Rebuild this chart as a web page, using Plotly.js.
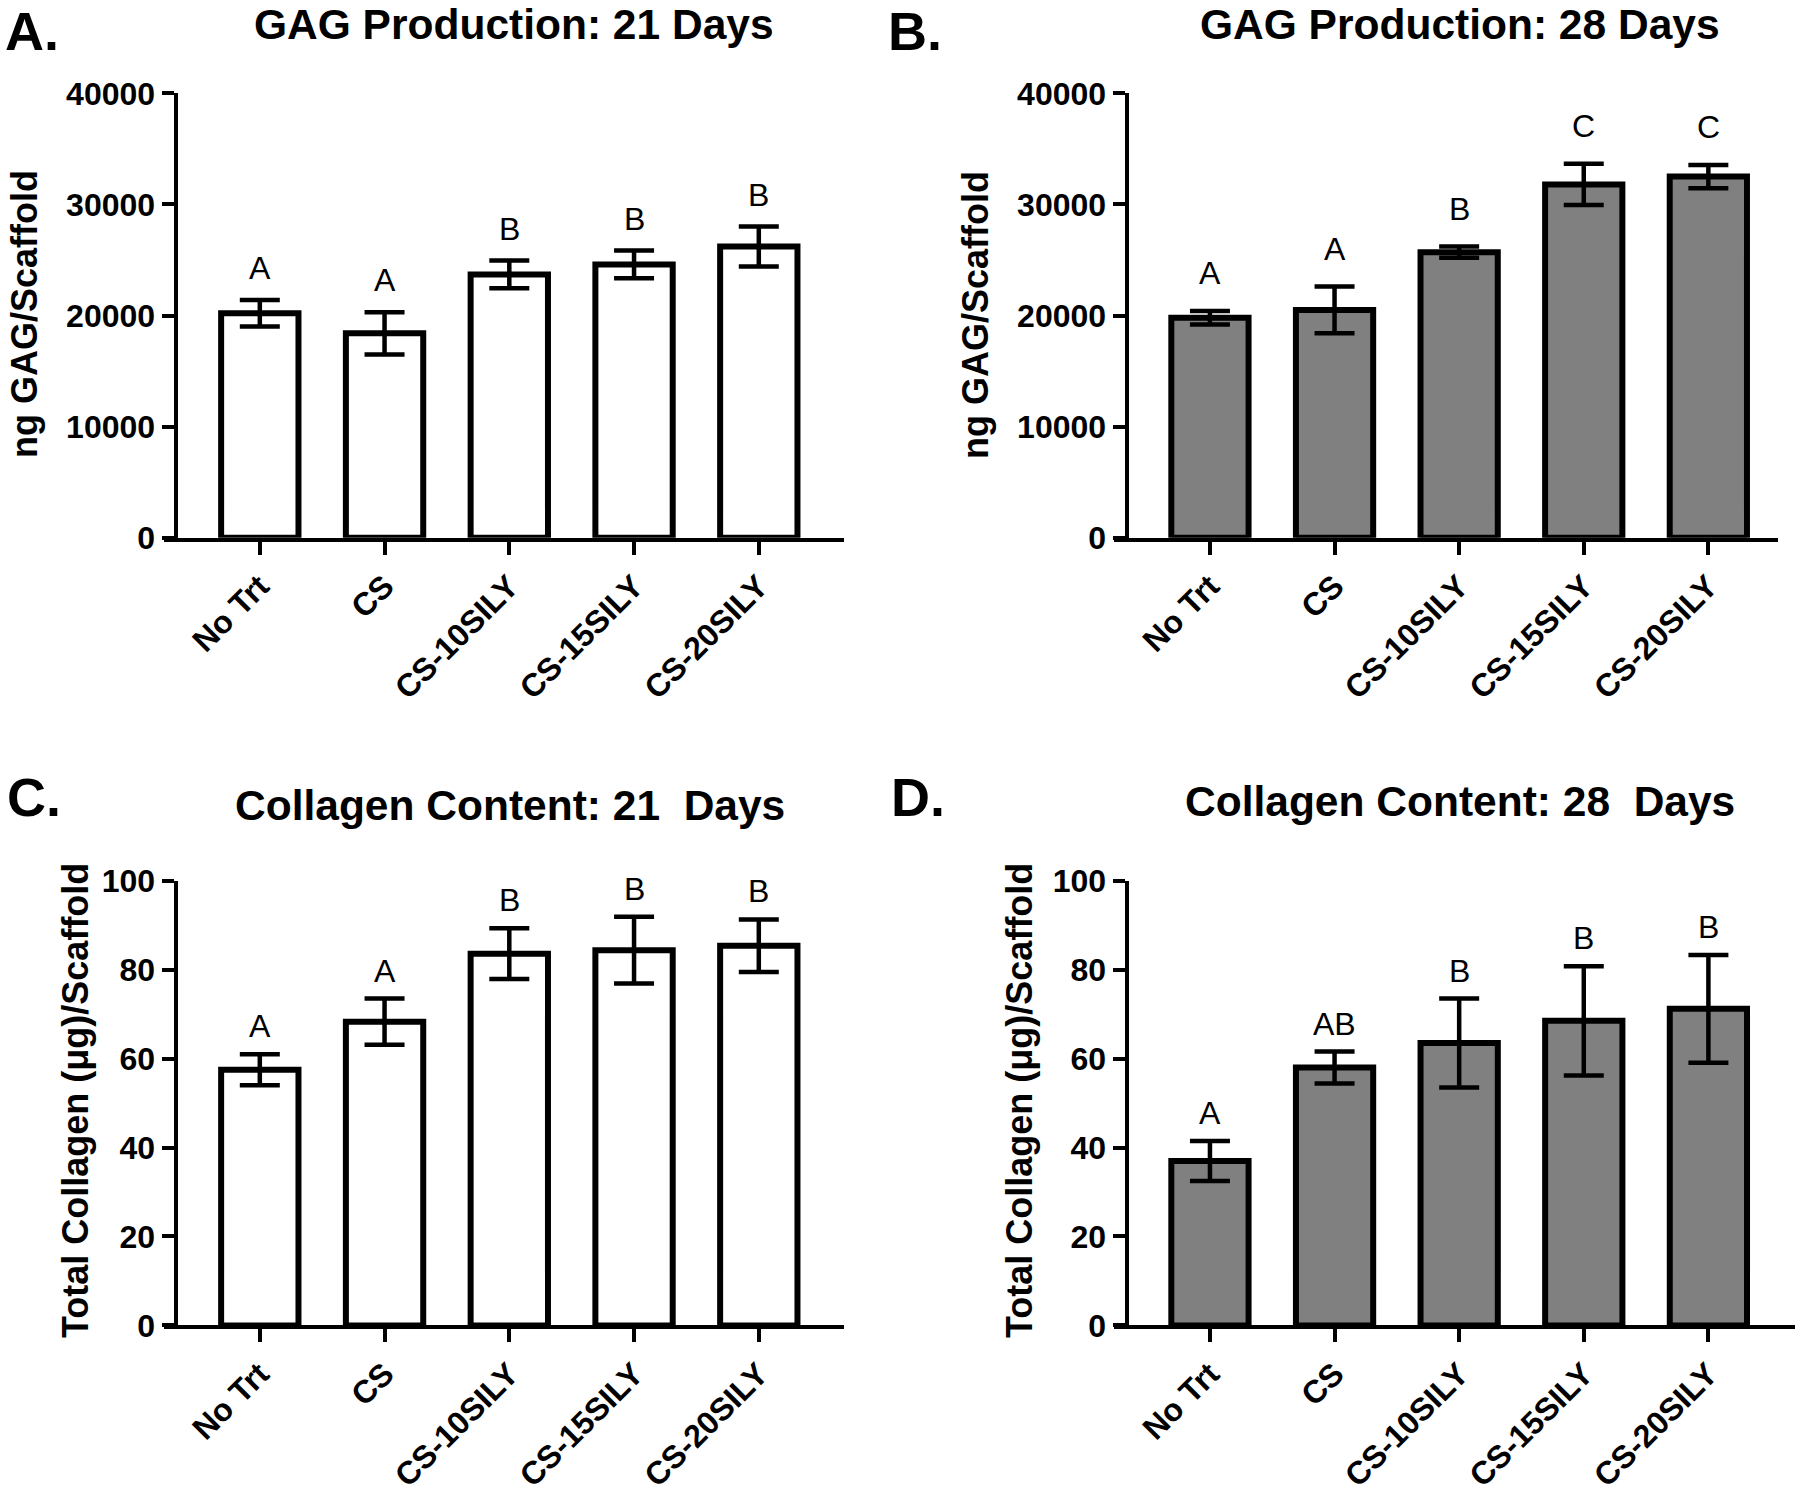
<!DOCTYPE html>
<html>
<head>
<meta charset="utf-8">
<script src="https://cdn.plot.ly/plotly-3.0.1.min.js"></script>
<style>html,body{margin:0;padding:0;background:#fff;}#chart{width:1800px;height:1494px;}</style>
</head>
<body>
<div id="chart"></div>
<script>
// ---------- data ----------
const categories = ['No Trt', 'CS', 'CS-10SILY', 'CS-15SILY', 'CS-20SILY'];

const gag21Mean = [20200, 18400, 23700, 24600, 26200];
const gag21Err  = [1200, 1900, 1250, 1250, 1800];
const gag21Sig  = ['A', 'A', 'B', 'B', 'B'];

const gag28Mean = [19800, 20500, 25700, 31800, 32500];
const gag28Err  = [600, 2100, 500, 1850, 1050];
const gag28Sig  = ['A', 'A', 'B', 'C', 'C'];

const col21Mean = [57.5, 68.3, 83.6, 84.4, 85.4];
const col21Err  = [3.5, 5.2, 5.7, 7.5, 5.9];
const col21Sig  = ['A', 'A', 'B', 'B', 'B'];

const col28Mean = [37.0, 58.0, 63.5, 68.5, 71.2];
const col28Err  = [4.5, 3.6, 10.0, 12.3, 12.1];
const col28Sig  = ['A', 'AB', 'B', 'B', 'B'];

const panelTitles = ['GAG Production: 21 Days', 'GAG Production: 28 Days',
                     'Collagen Content: 21\u00a0 Days', 'Collagen Content: 28\u00a0 Days'];
const panelLabels = ['A.', 'B.', 'C.', 'D.'];
const yTitles = ['ng GAG/Scaffold', 'ng GAG/Scaffold',
                 'Total Collagen (\u03bcg)/Scaffold', 'Total Collagen (\u03bcg)/Scaffold'];
const gagTicks = [0, 10000, 20000, 30000, 40000];
const colTicks = [0, 20, 40, 60, 80, 100];

// ---------- layout helpers ----------
const W = 1800, H = 1494;
const px = v => v / W;
const py = v => 1 - v / H;
const FONT = 'Arial, "Liberation Sans", Helvetica, sans-serif';

const panels = [
  {mean: gag21Mean, err: gag21Err, sig: gag21Sig, fill: '#ffffff', ticks: gagTicks, yr: [0, 40000],
   xd: [164, 844], yd: [537.7, 93.3], ypos: 175.5, xr: [-0.768, 4.683], sigShift: 12,
   title: [514, 0], tAnchor: 'top', label: [4, 0], lAnchor: 'top', ytitle: [25, 314]},
  {mean: gag28Mean, err: gag28Err, sig: gag28Sig, fill: '#808080', ticks: gagTicks, yr: [0, 40000],
   xd: [1113.5, 1778], yd: [537.7, 93.3], ypos: 1126.5, xr: [-0.774, 4.559], sigShift: 18,
   title: [1460, 0], tAnchor: 'top', label: [887, 0], lAnchor: 'top', ytitle: [976, 315]},
  {mean: col21Mean, err: col21Err, sig: col21Sig, fill: '#ffffff', ticks: colTicks, yr: [0, 100],
   xd: [164, 844], yd: [1325.4, 880.8], ypos: 175.5, xr: [-0.768, 4.683], sigShift: 8,
   title: [510, 805], tAnchor: 'middle', label: [6, 797], lAnchor: 'middle', ytitle: [75, 1101]},
  {mean: col28Mean, err: col28Err, sig: col28Sig, fill: '#808080', ticks: colTicks, yr: [0, 100],
   xd: [1113.5, 1795], yd: [1325.4, 880.8], ypos: 1126.5, xr: [-0.774, 4.695], sigShift: 8,
   title: [1460, 801], tAnchor: 'middle', label: [890, 797], lAnchor: 'middle', ytitle: [1019, 1101]}
];

const traces = [];
const layout = {
  width: W, height: H,
  margin: {l: 0, r: 0, t: 0, b: 0},
  paper_bgcolor: '#ffffff', plot_bgcolor: 'rgba(0,0,0,0)',
  showlegend: false,
  font: {family: FONT, color: '#000'},
  annotations: []
};

panels.forEach((p, i) => {
  const n = i + 1;
  const xa = 'x' + (n === 1 ? '' : n), ya = 'y' + (n === 1 ? '' : n);
  const xk = 'xaxis' + (n === 1 ? '' : n), yk = 'yaxis' + (n === 1 ? '' : n);

  traces.push({
    type: 'bar', x: categories, y: p.mean, xaxis: xa, yaxis: ya,
    width: 0.62,
    marker: {color: p.fill, line: {color: '#000', width: 6}},
    error_y: {type: 'data', array: p.err, visible: true, color: '#000', thickness: 4.5, width: 20},
    hoverinfo: 'skip', cliponaxis: false
  });

  layout[xk] = {
    domain: [px(p.xd[0]), px(p.xd[1])], anchor: ya, type: 'category',
    range: p.xr, showgrid: false, zeroline: false,
    showline: true, linecolor: '#000', linewidth: 4,
    ticks: 'outside', ticklen: 13, tickwidth: 4, tickcolor: '#000',
    tickangle: -45, tickfont: {family: FONT, size: 32, color: '#000', weight: 'bold'},
    fixedrange: true
  };
  layout[yk] = {
    domain: [py(p.yd[0]), py(p.yd[1])], anchor: 'free', position: px(p.ypos),
    range: p.yr, tickvals: p.ticks, tickformat: 'd', showgrid: false, zeroline: false,
    showline: true, linecolor: '#000', linewidth: 4,
    ticks: 'outside', ticklen: 12, tickwidth: 4, tickcolor: '#000',
    tickfont: {family: FONT, size: 32, color: '#000', weight: 'bold'},
    fixedrange: true
  };

  // significance letters
  p.sig.forEach((s, k) => {
    layout.annotations.push({
      xref: xa, yref: ya, x: categories[k], y: p.mean[k] + p.err[k],
      text: s, showarrow: false, yanchor: 'bottom', yshift: p.sigShift,
      font: {family: FONT, size: 32, color: '#000'}
    });
  });

  // panel title
  layout.annotations.push({
    xref: 'paper', yref: 'paper', x: px(p.title[0]), y: py(p.title[1]),
    xanchor: 'center', yanchor: p.tAnchor, borderpad: 0, showarrow: false,
    text: '<b>' + panelTitles[i] + '</b>',
    font: {family: FONT, size: 42.5, color: '#000'}
  });
  // panel letter
  layout.annotations.push({
    xref: 'paper', yref: 'paper', x: px(p.label[0]), y: py(p.label[1]),
    xanchor: 'left', yanchor: p.lAnchor, borderpad: 0, showarrow: false,
    text: '<b>' + panelLabels[i] + '</b>',
    font: {family: FONT, size: 54, color: '#000'}
  });
  // y-axis title
  layout.annotations.push({
    xref: 'paper', yref: 'paper', x: px(p.ytitle[0]), y: py(p.ytitle[1]),
    xanchor: 'center', yanchor: 'middle', showarrow: false, textangle: -90,
    text: '<b>' + yTitles[i] + '</b>',
    font: {family: FONT, size: 36, color: '#000'}
  });
});

Plotly.newPlot('chart', traces, layout, {staticPlot: true, displayModeBar: false});
</script>
</body>
</html>
